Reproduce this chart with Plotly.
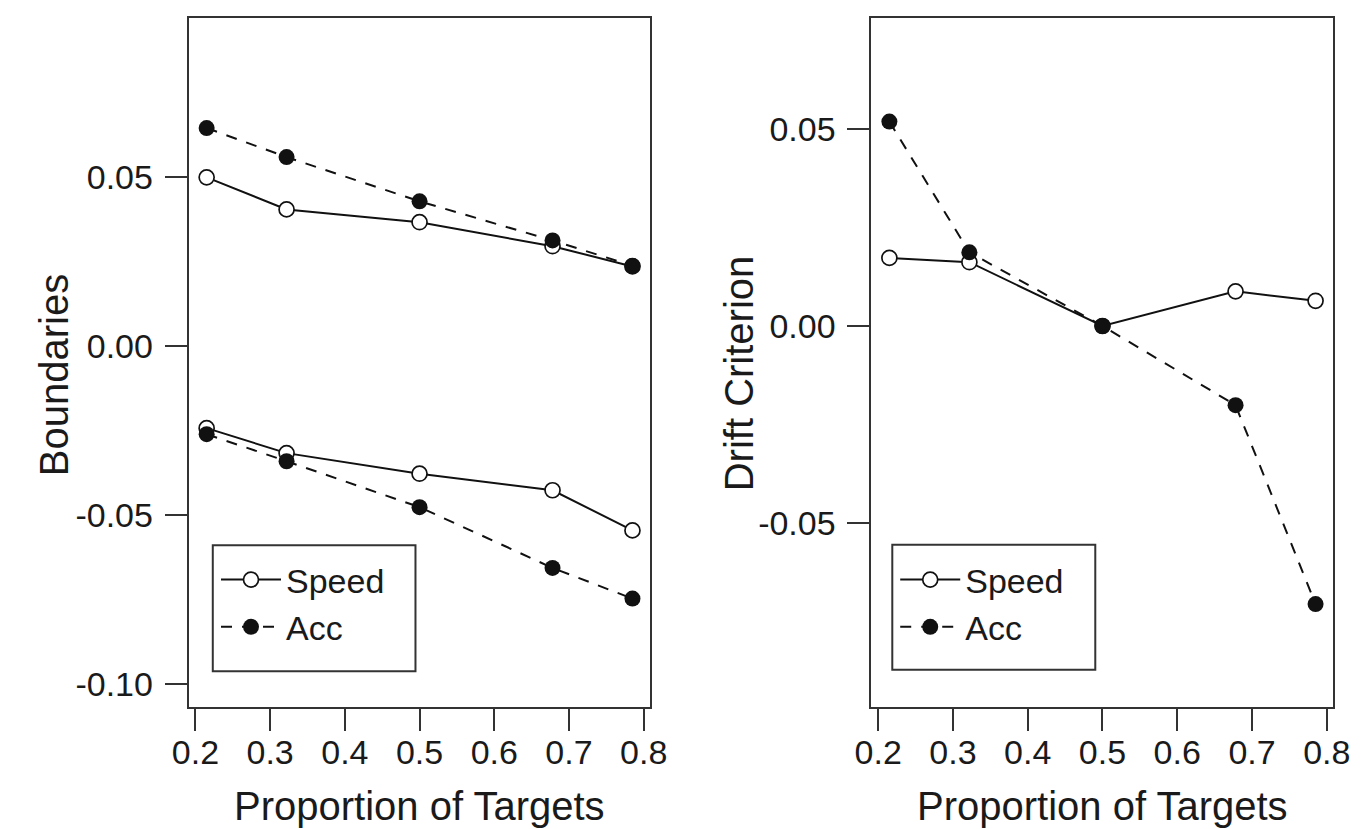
import plotly.graph_objects as go

W, H = 1372, 829

# ---- data ----
proportion = [0.215, 0.322, 0.5, 0.678, 0.785]

bound_speed_upper = [0.0500, 0.0405, 0.0367, 0.0296, 0.0236]
bound_speed_lower = [-0.0243, -0.0317, -0.0378, -0.0427, -0.0546]
bound_acc_upper = [0.0646, 0.0560, 0.0429, 0.0313, 0.0238]
bound_acc_lower = [-0.0261, -0.0341, -0.0477, -0.0657, -0.0748]

drift_speed = [0.0173, 0.0162, 0.0, 0.0088, 0.0064]
drift_acc = [0.0519, 0.0187, 0.0, -0.0201, -0.0706]

x_ticks = [0.2, 0.3, 0.4, 0.5, 0.6, 0.7, 0.8]
x_tick_labels = ["0.2", "0.3", "0.4", "0.5", "0.6", "0.7", "0.8"]
left_y_ticks = [-0.10, -0.05, 0.0, 0.05]
left_y_labels = ["-0.10", "-0.05", "0.00", "0.05"]
right_y_ticks = [-0.05, 0.0, 0.05]
right_y_labels = ["-0.05", "0.00", "0.05"]

FONT = "Liberation Sans, Arial, Helvetica, sans-serif"
INK = "#111"
BOX = "#333"
TXT = "#1a1a1a"


def px(x):
    return x / W


def py(y):
    return 1 - y / H


speed_style = dict(
    mode="lines+markers",
    line=dict(color=INK, width=2),
    marker=dict(symbol="circle", size=15, color="white", line=dict(color=INK, width=1.7)),
)
acc_style = dict(
    mode="lines+markers",
    line=dict(color=INK, width=2, dash="11px,10px"),
    marker=dict(symbol="circle", size=16, color=INK, line=dict(color=INK, width=0)),
)

fig = go.Figure()

# left panel
fig.add_trace(go.Scatter(x=proportion, y=bound_speed_upper, name="Speed", legend="legend",
                         xaxis="x", yaxis="y", showlegend=True, **speed_style))
fig.add_trace(go.Scatter(x=proportion, y=bound_speed_lower, name="Speed", legend="legend",
                         xaxis="x", yaxis="y", showlegend=False, **speed_style))
fig.add_trace(go.Scatter(x=proportion, y=bound_acc_upper, name="Acc", legend="legend",
                         xaxis="x", yaxis="y", showlegend=True, **acc_style))
fig.add_trace(go.Scatter(x=proportion, y=bound_acc_lower, name="Acc", legend="legend",
                         xaxis="x", yaxis="y", showlegend=False, **acc_style))

# right panel
fig.add_trace(go.Scatter(x=proportion, y=drift_speed, name="Speed", legend="legend2",
                         xaxis="x2", yaxis="y2", showlegend=True, **speed_style))
fig.add_trace(go.Scatter(x=proportion, y=drift_acc, name="Acc", legend="legend2",
                         xaxis="x2", yaxis="y2", showlegend=True, **acc_style))

axis_common = dict(
    showline=True, mirror=True, linecolor=BOX, linewidth=2,
    ticks="outside", ticklen=22, tickwidth=2, tickcolor=BOX,
    showgrid=False, zeroline=False,
    tickfont=dict(family=FONT, size=34, color=TXT),
)

ydom = [py(699.3), py(10)]

fig.update_layout(
    width=W, height=H,
    margin=dict(l=0, r=0, t=0, b=0),
    paper_bgcolor="white", plot_bgcolor="white",
    font=dict(family=FONT, color=TXT),
    xaxis=dict(domain=[px(168), px(641)], range=[0.191, 0.808], anchor="y",
               tickvals=x_ticks, ticktext=x_tick_labels, ticklabelstandoff=-8, **axis_common),
    yaxis=dict(domain=ydom, range=[-0.1070, 0.0972], anchor="x",
               tickvals=left_y_ticks, ticktext=left_y_labels, ticklabelstandoff=5, **axis_common),
    xaxis2=dict(domain=[px(868.6), px(1342)], range=[0.191, 0.808], anchor="y2",
                tickvals=x_ticks, ticktext=x_tick_labels, ticklabelstandoff=-8, **axis_common),
    yaxis2=dict(domain=ydom, range=[-0.0968, 0.0782], anchor="x2",
                tickvals=right_y_ticks, ticktext=right_y_labels, ticklabelstandoff=5, **axis_common),
    legend=dict(x=px(196), y=py(543), xanchor="left", yanchor="top",
                bgcolor="rgba(0,0,0,0)", borderwidth=0, itemwidth=60,
                font=dict(family=FONT, size=34, color=TXT), tracegroupgap=0),
    legend2=dict(x=px(893), y=py(543), xanchor="left", yanchor="top",
                 bgcolor="rgba(0,0,0,0)", borderwidth=0, itemwidth=60,
                 font=dict(family=FONT, size=34, color=TXT), tracegroupgap=0),
    shapes=[
        dict(type="rect", xref="paper", yref="paper",
             x0=px(192.7), x1=px(400.7), y0=py(663.3), y1=py(537.3),
             line=dict(color=BOX, width=2), fillcolor="rgba(0,0,0,0)", layer="below"),
        dict(type="rect", xref="paper", yref="paper",
             x0=px(890), x1=px(1098.3), y0=py(661.7), y1=py(536.7),
             line=dict(color=BOX, width=2), fillcolor="rgba(0,0,0,0)", layer="below"),
    ],
    annotations=[
        dict(text="Proportion of Targets", xref="paper", yref="paper",
             x=px(404.5), y=py(798), xanchor="center", yanchor="middle", showarrow=False,
             font=dict(family=FONT, size=40, color=TXT)),
        dict(text="Proportion of Targets", xref="paper", yref="paper",
             x=px(1105.3), y=py(798), xanchor="center", yanchor="middle", showarrow=False,
             font=dict(family=FONT, size=40, color=TXT)),
        dict(text="Boundaries", xref="paper", yref="paper", textangle=-90,
             x=px(30), y=py(367), xanchor="center", yanchor="middle", showarrow=False,
             font=dict(family=FONT, size=40, color=TXT)),
        dict(text="Drift Criterion", xref="paper", yref="paper", textangle=-90,
             x=px(733), y=py(365), xanchor="center", yanchor="middle", showarrow=False,
             font=dict(family=FONT, size=40, color=TXT)),
    ],
)

fig.write_html("out.html")
